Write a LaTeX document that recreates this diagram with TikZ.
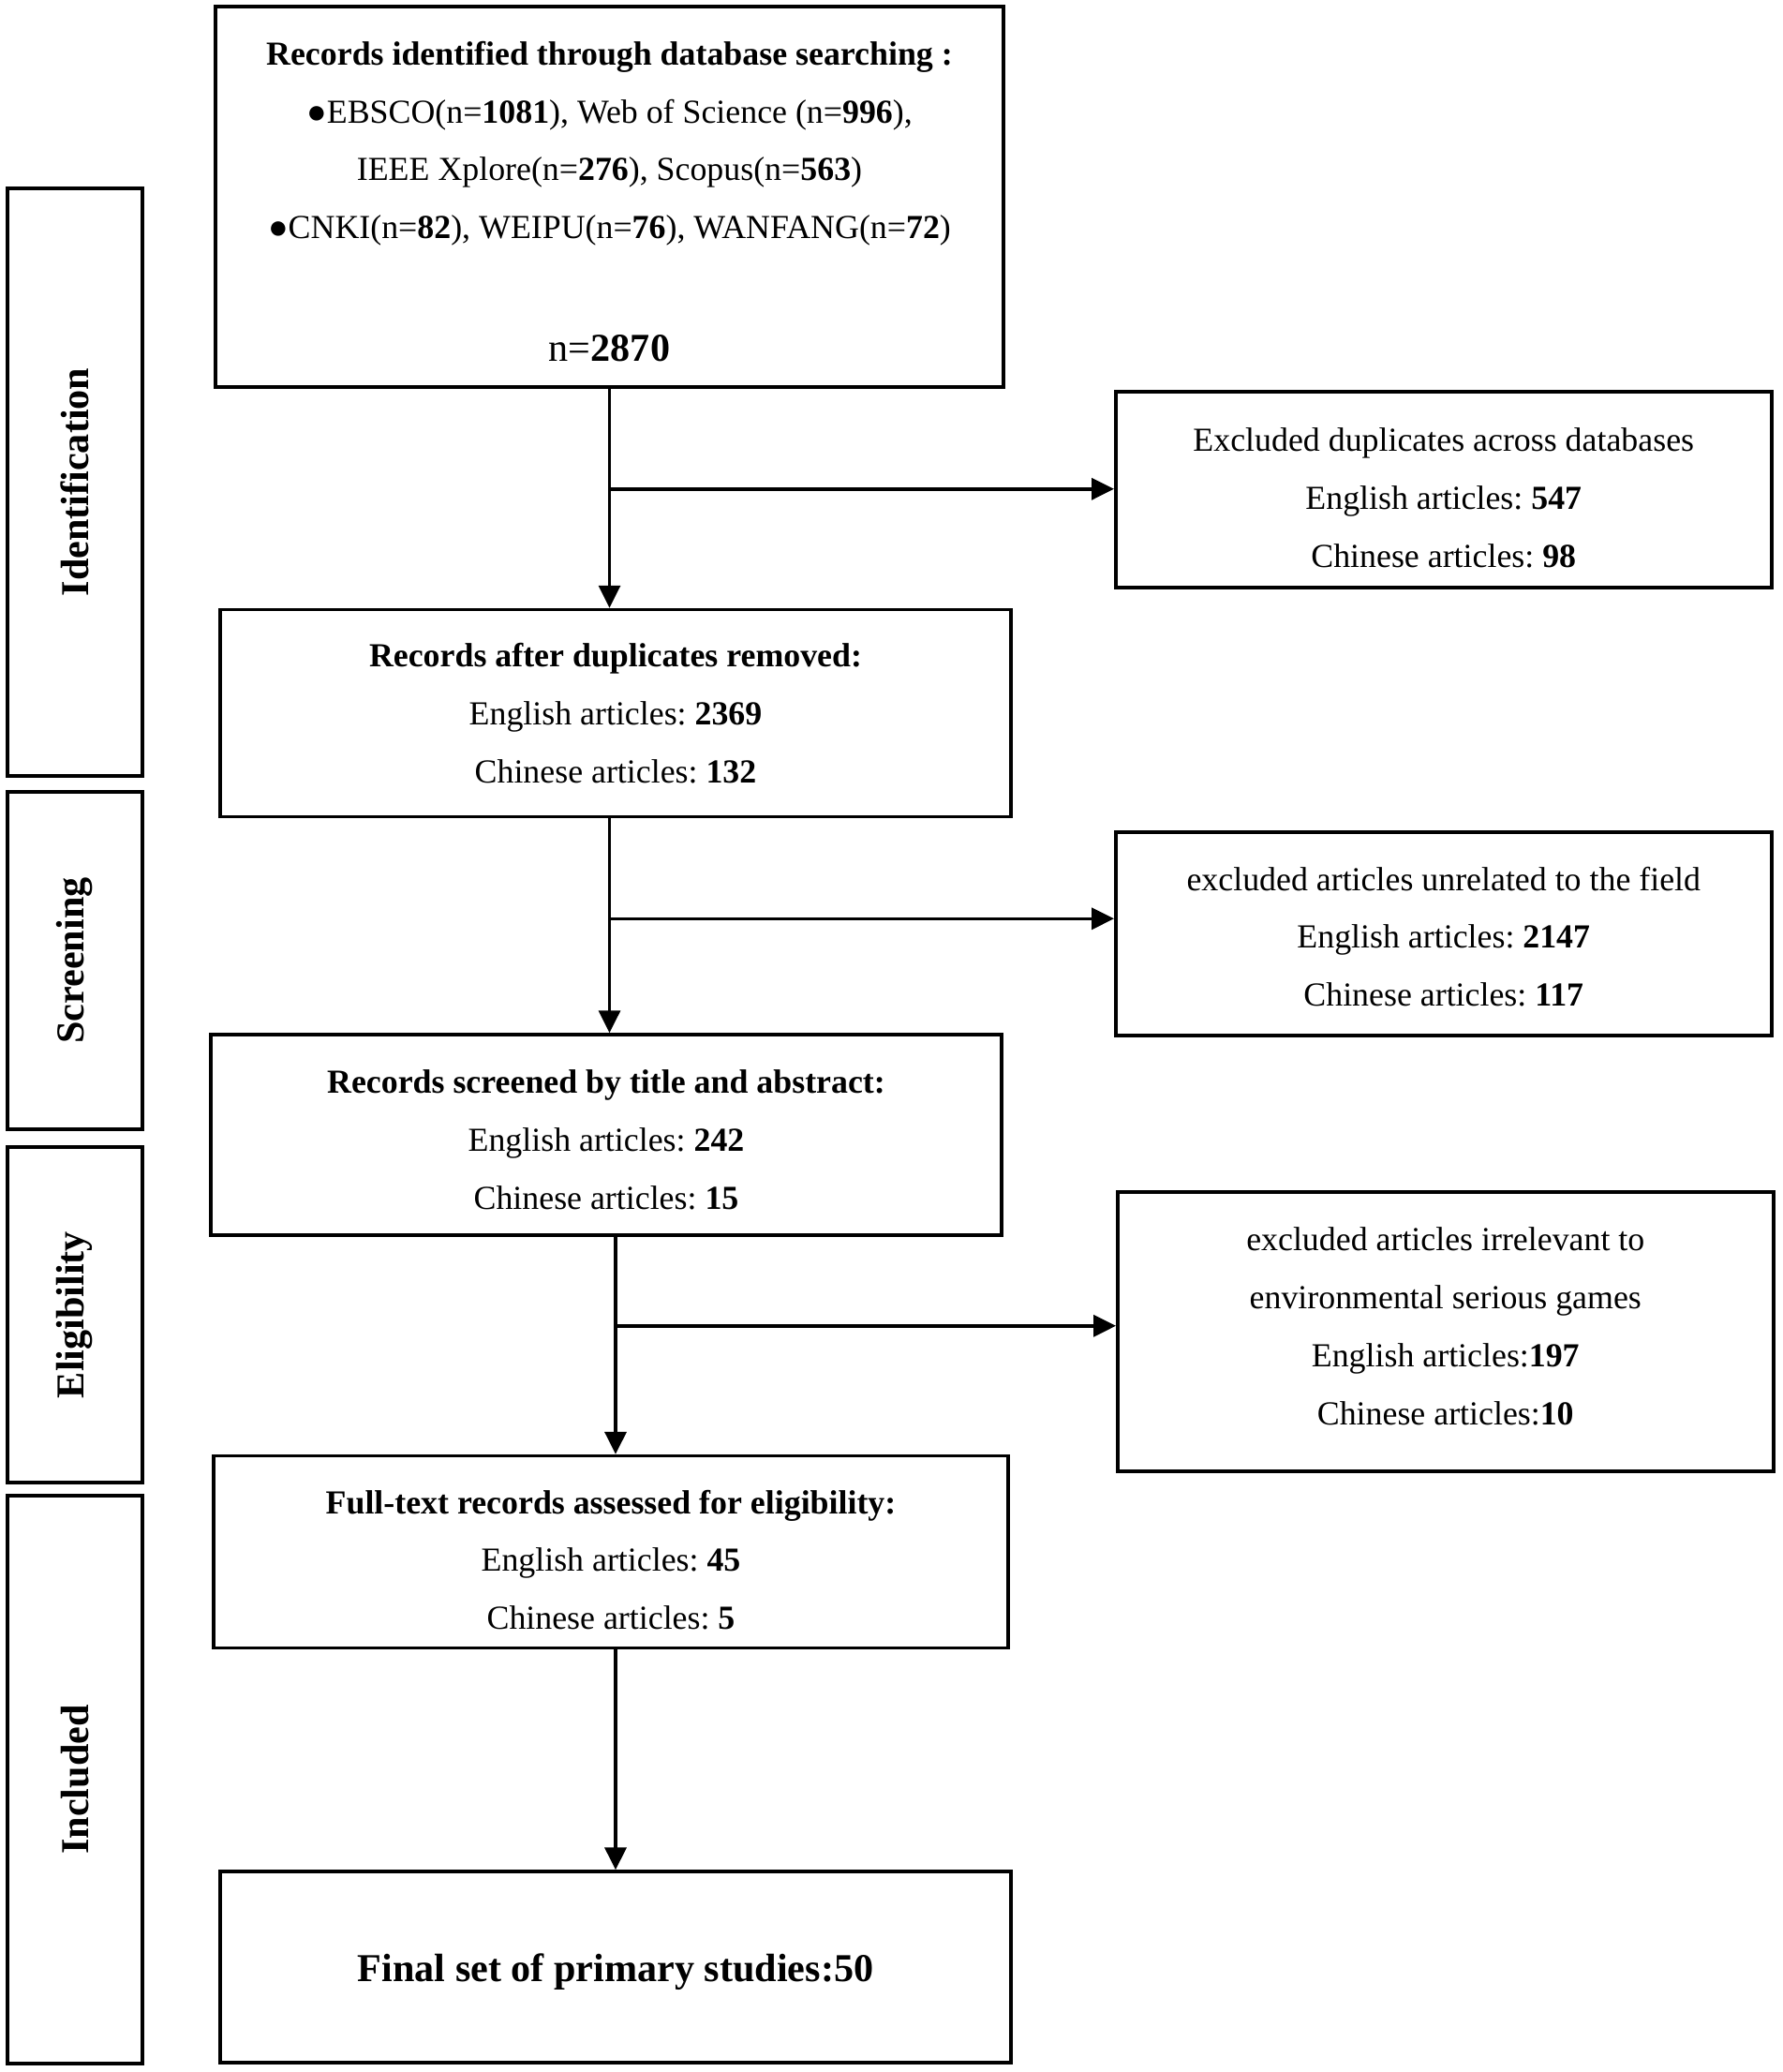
\documentclass[tikz,border=0pt]{standalone}
\usepackage{fontspec}
\setmainfont{Liberation Serif}
\frenchspacing
\usetikzlibrary{arrows.meta,calc,positioning}
\tikzset{
    >={Triangle[length=0.24cm,width=0.23cm]},
    boxfont/.style={font=\fontsize{10.2pt}{17.6pt}\selectfont},
    excluded/.style ={rectangle, draw, align=center, boxfont, minimum width=7cm, anchor=west},
    phase/.style ={rectangle, draw, rotate=90, minimum height=1.44cm, font=\fontsize{12pt}{14pt}\selectfont\bfseries}
}
% extra room above / below a line, to move a text block inside its box
\newcommand{\padtop}[2]{\raisebox{0pt}[\dimexpr\height+#1\relax][\depth]{#2}}
\newcommand{\padbot}[2]{\raisebox{0pt}[\height][\dimexpr\depth+#1\relax]{#2}}

\begin{document}
\begin{tikzpicture}[
  record/.style={draw, align=center, boxfont, minimum width=8.44cm, inner sep=4pt},
  line width=1pt
]
\useasboundingbox (0,0) rectangle (19.02,-22.11);

% Main column
\node[record, minimum width=8.41cm, minimum height=4.06cm] (ident) at (6.505,-2.10) {\padtop{0.1cm}{\textbf{Records identified through database searching :}}\\
  ●EBSCO(n=\textbf{1081}), Web of Science (n=\textbf{996}),\\
  IEEE Xplore(n=\textbf{276}), Scopus(n=\textbf{563})\\
  ●CNKI(n=\textbf{82}), WEIPU(n=\textbf{76}), WANFANG(n=\textbf{72})\\
  \mbox{}\\[0.07cm]
  {\fontsize{12pt}{17.6pt}\selectfont n=\textbf{2870}}};
\node[record, minimum height=2.21cm, below=2.34cm of ident, xshift=0.065cm] (dedup) {\textbf{Records after duplicates removed:}\\
  English articles: \textbf{2369}\\
  Chinese articles: \textbf{132}};
\node[record, minimum height=2.14cm, below=2.29cm of dedup, xshift=-0.1cm] (screen) {\padtop{0.11cm}{\textbf{Records screened by title and abstract:}}\\
  English articles: \textbf{242}\\
  Chinese articles: \textbf{15}};
\node[record, minimum width=8.48cm, minimum height=2.05cm, below=2.32cm of screen, xshift=0.05cm] (full) {\padtop{0.17cm}{\textbf{Full-text records assessed for eligibility:}}\\
  English articles: \textbf{45}\\
  Chinese articles: \textbf{5}};
\node[record, minimum height=2.04cm, below=2.35cm of full, xshift=0.05cm,
  font=\fontsize{12pt}{14pt}\selectfont\bfseries] (final) {\padtop{0.1cm}{Final set of primary studies:50}};

% Excluded records
\node[excluded, minimum height=2.09cm] (dup) at (11.89,-5.225) {\padtop{0.17cm}{Excluded duplicates across databases}\\
  English articles: \textbf{547}\\
  Chinese articles: \textbf{98}};
\node[excluded, minimum height=2.17cm] (unrel) at (11.89,-9.965) {\padtop{0.06cm}{excluded articles unrelated to the field}\\
  English articles: \textbf{2147}\\
  Chinese articles: \textbf{117}};
\node[excluded, minimum height=2.98cm] (irrel) at (11.91,-14.21) {excluded articles irrelevant to\\
  environmental serious games\\
  English articles:\textbf{197}\\
  \padbot{0.11cm}{Chinese articles:\textbf{10}}};

% Phases
\node[phase, minimum width=6.27cm] (pid) at (0.80,-5.145) {Identification};
\node[phase, minimum width=3.60cm] (pscr) at (0.80,-10.25) {Screening};
\node[phase, minimum width=3.58cm] (pelig) at (0.80,-14.03) {Eligibility};
\node[phase, minimum width=6.06cm] (pinc) at (0.80,-18.99) {Included};

% Paths
\coordinate (b1) at ($(ident.south)+(0,-1.07)$);
\coordinate (b2) at ($(dedup.south -| ident.south)+(0,-1.07)$);
\coordinate (b3) at ($(screen.south -| dedup.south)+(0,-0.95)$);
\draw[->] (ident.south) -- (ident.south |- dedup.north);
\draw[->] (dedup.south -| ident.south) -- (screen.north -| ident.south);
\draw[->] (screen.south -| dedup.south) -- (full.north -| dedup.south);
\draw[->] (full.south -| final.north) -- (final.north);
\draw[->] (b1) -- (b1 -| dup.west);
\draw[->] (b2) -- (b2 -| unrel.west);
\draw[->] (b3) -- (b3 -| irrel.west);

\end{tikzpicture}
\end{document}
